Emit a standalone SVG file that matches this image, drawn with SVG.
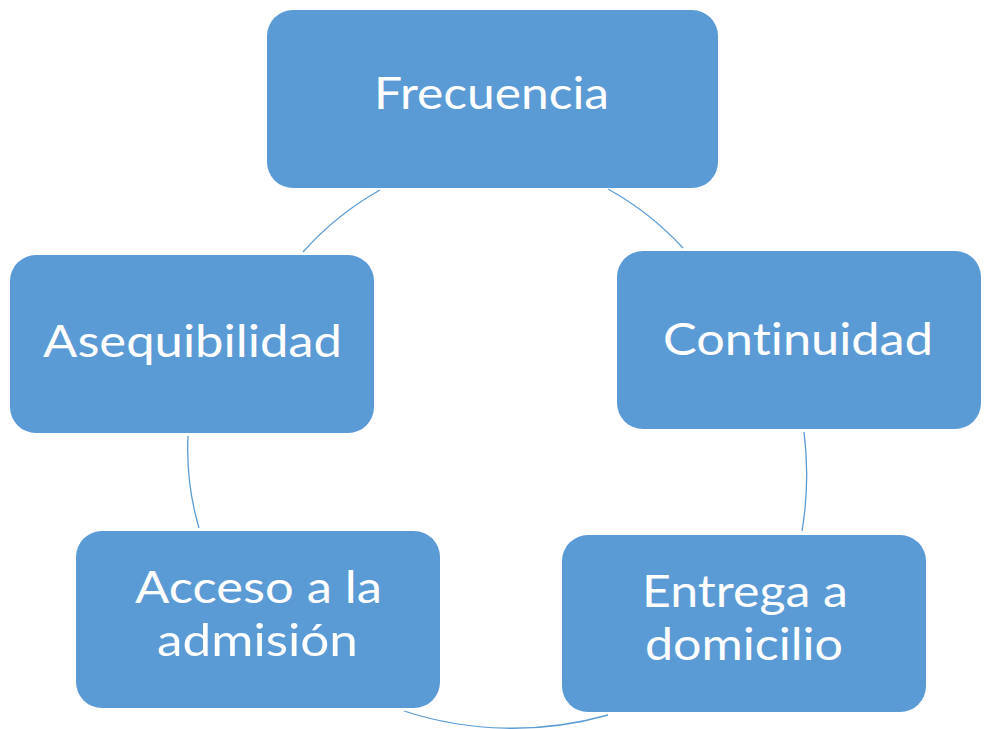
<svg xmlns="http://www.w3.org/2000/svg" width="986" height="729" viewBox="0 0 986 729">
<style>
.box{fill:#5b9bd5;}
.lbl{fill:#ffffff;font-family:Lato,"Open Sans","Liberation Sans",sans-serif;font-size:45px;text-anchor:middle;font-variant-ligatures:none;font-feature-settings:"liga" 0,"clig" 0;}
.arc{fill:none;stroke:#5b9bd5;stroke-width:1.3;}
</style>
<rect width="986" height="729" fill="#ffffff"/>
<g id="connectors">
<path class="arc" d="M303,252 A300,300 0 0 1 380,190"/>
<path class="arc" d="M608,189 A300,300 0 0 1 683,248"/>
<path class="arc" d="M804,432 A340,340 0 0 1 802,531"/>
<path class="arc" d="M608,715 A350,350 0 0 1 404,711"/>
<path class="arc" d="M199,528 A280,280 0 0 1 188,436"/>
</g>
<g id="frecuencia">
<rect class="box" x="267" y="10" width="451" height="178" rx="26"/>
<text class="lbl" x="491.5" y="109" font-size="42" textLength="235" lengthAdjust="spacingAndGlyphs">Frecuencia</text>
</g>
<g id="continuidad">
<rect class="box" x="617" y="251" width="364" height="178" rx="26"/>
<text class="lbl" x="798" y="355" textLength="270" lengthAdjust="spacingAndGlyphs">Continuidad</text>
</g>
<g id="entrega">
<rect class="box" x="562" y="535" width="364" height="177" rx="26"/>
<text class="lbl" x="745" y="607" font-size="44" textLength="206" lengthAdjust="spacingAndGlyphs">Entrega a</text>
<text class="lbl" x="744" y="660" font-size="44" textLength="198" lengthAdjust="spacingAndGlyphs">domicilio</text>
</g>
<g id="acceso">
<rect class="box" x="76" y="531" width="364" height="177" rx="26"/>
<text class="lbl" x="258.5" y="603" font-size="44" textLength="247" lengthAdjust="spacingAndGlyphs">Acceso a la</text>
<text class="lbl" x="257.5" y="656" font-size="44" textLength="201" lengthAdjust="spacingAndGlyphs">admisión</text>
</g>
<g id="asequibilidad">
<rect class="box" x="10" y="255" width="364" height="178" rx="26"/>
<text class="lbl" x="192.5" y="357" textLength="299" lengthAdjust="spacingAndGlyphs">Asequibilidad</text>
</g>
</svg>
